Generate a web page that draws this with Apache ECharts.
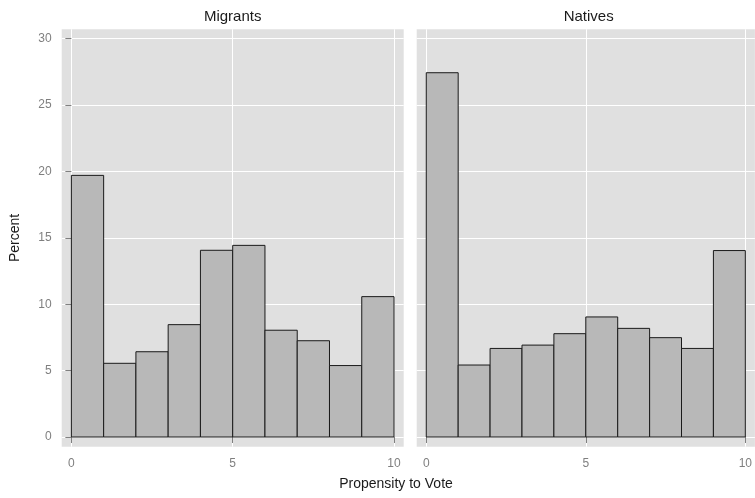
<!DOCTYPE html>
<html>
<head>
<meta charset="utf-8">
<script src="https://cdn.jsdelivr.net/npm/echarts@6/dist/echarts.min.js"></script>
<style>
html,body{margin:0;padding:0;background:#fff;}
#chart{width:755px;height:498px;}
</style>
</head>
<body>
<div id="chart"></div>
<script>
// ---- data ----
const panels = ['Migrants', 'Natives'];
const binStarts = [0, 1, 2, 3, 4, 5, 6, 7, 8, 9];
const binEnds = [1, 2, 3, 4, 5, 6, 7, 8, 9, 10];
const migrants = [19.70, 5.55, 6.42, 8.46, 14.06, 14.43, 8.04, 7.25, 5.38, 10.57];
const natives = [27.43, 5.42, 6.67, 6.92, 7.78, 9.04, 8.18, 7.48, 6.67, 14.04];
const xTicks = [0, 5, 10];
const yTicks = [0, 5, 10, 15, 20, 25, 30];
const xTitle = 'Propensity to Vote';
const yTitle = 'Percent';

const FONT = '"Liberation Sans", Arial, Helvetica, sans-serif';
const chart = echarts.init(document.getElementById('chart'), null, {renderer: 'canvas'});

function toData(vals) {
  return vals.map((v, i) => [binStarts[i], binEnds[i], v]);
}
function renderItem(params, api) {
  const p0 = api.coord([api.value(0), 0]);
  const p1 = api.coord([api.value(1), api.value(2)]);
  return {
    type: 'rect',
    shape: {x: p0[0], y: p1[1], width: p1[0] - p0[0], height: p0[1] - p1[1]},
    style: {fill: '#b8b8b8', stroke: '#1a1a1a', lineWidth: 1}
  };
}

const gridTop = 29.3, gridH = 417.4, gridW = 342;
const lefts = [61.7, 416.7];

const grids = lefts.map(l => ({
  left: l, top: gridTop, width: gridW, height: gridH,
  show: true, backgroundColor: '#e0e0e0', borderWidth: 0, containLabel: false
}));

const xAxes = lefts.map((l, i) => ({
  type: 'value', gridIndex: i, min: -0.3, max: 10.3,
  axisLine: {show: false},
  axisTick: {show: true, inside: false, length: 6, lineStyle: {color: '#7f7f7f', width: 1}, customValues: xTicks},
  axisLabel: {show: true, color: '#7f7f7f', fontSize: 12, fontFamily: FONT, margin: 11, customValues: xTicks},
  splitLine: {show: true, lineStyle: {color: '#ffffff', width: 1}}
}));

const yAxes = lefts.map((l, i) => ({
  type: 'value', gridIndex: i, min: -0.73, max: 30.7,
  axisLine: {show: false},
  axisTick: {show: i === 0, inside: false, length: 6, lineStyle: {color: '#7f7f7f', width: 1}, customValues: yTicks},
  axisLabel: {show: i === 0, color: '#7f7f7f', fontSize: 12, fontFamily: FONT, margin: 10, customValues: yTicks},
  splitLine: {show: true, lineStyle: {color: '#ffffff', width: 1}}
}));

const seriesData = [migrants, natives];

const option = {
  backgroundColor: '#ffffff',
  animation: false,
  grid: grids,
  xAxis: xAxes,
  yAxis: yAxes,
  series: seriesData.map((vals, i) => ({
    type: 'custom', name: panels[i], xAxisIndex: i, yAxisIndex: i,
    renderItem: renderItem, encode: {x: [0, 1], y: 2},
    data: toData(vals), clip: true
  })),
  graphic: [
    {type: 'text', x: lefts[0] + gridW / 2, y: 17, style: {text: panels[0], font: '15px ' + FONT, fill: '#1a1a1a', textAlign: 'center', textVerticalAlign: 'middle'}},
    {type: 'text', x: lefts[1] + gridW / 2 + 1, y: 17, style: {text: panels[1], font: '15px ' + FONT, fill: '#1a1a1a', textAlign: 'center', textVerticalAlign: 'middle'}},
    {type: 'text', x: 396, y: 484, style: {text: xTitle, font: '14px ' + FONT, fill: '#1a1a1a', textAlign: 'center', textVerticalAlign: 'middle'}},
    {type: 'text', x: 15.5, y: 238, rotation: Math.PI / 2, style: {text: yTitle, font: '14px ' + FONT, fill: '#1a1a1a', textAlign: 'center', textVerticalAlign: 'middle'}}
  ]
};
chart.setOption(option);
</script>
</body>
</html>
